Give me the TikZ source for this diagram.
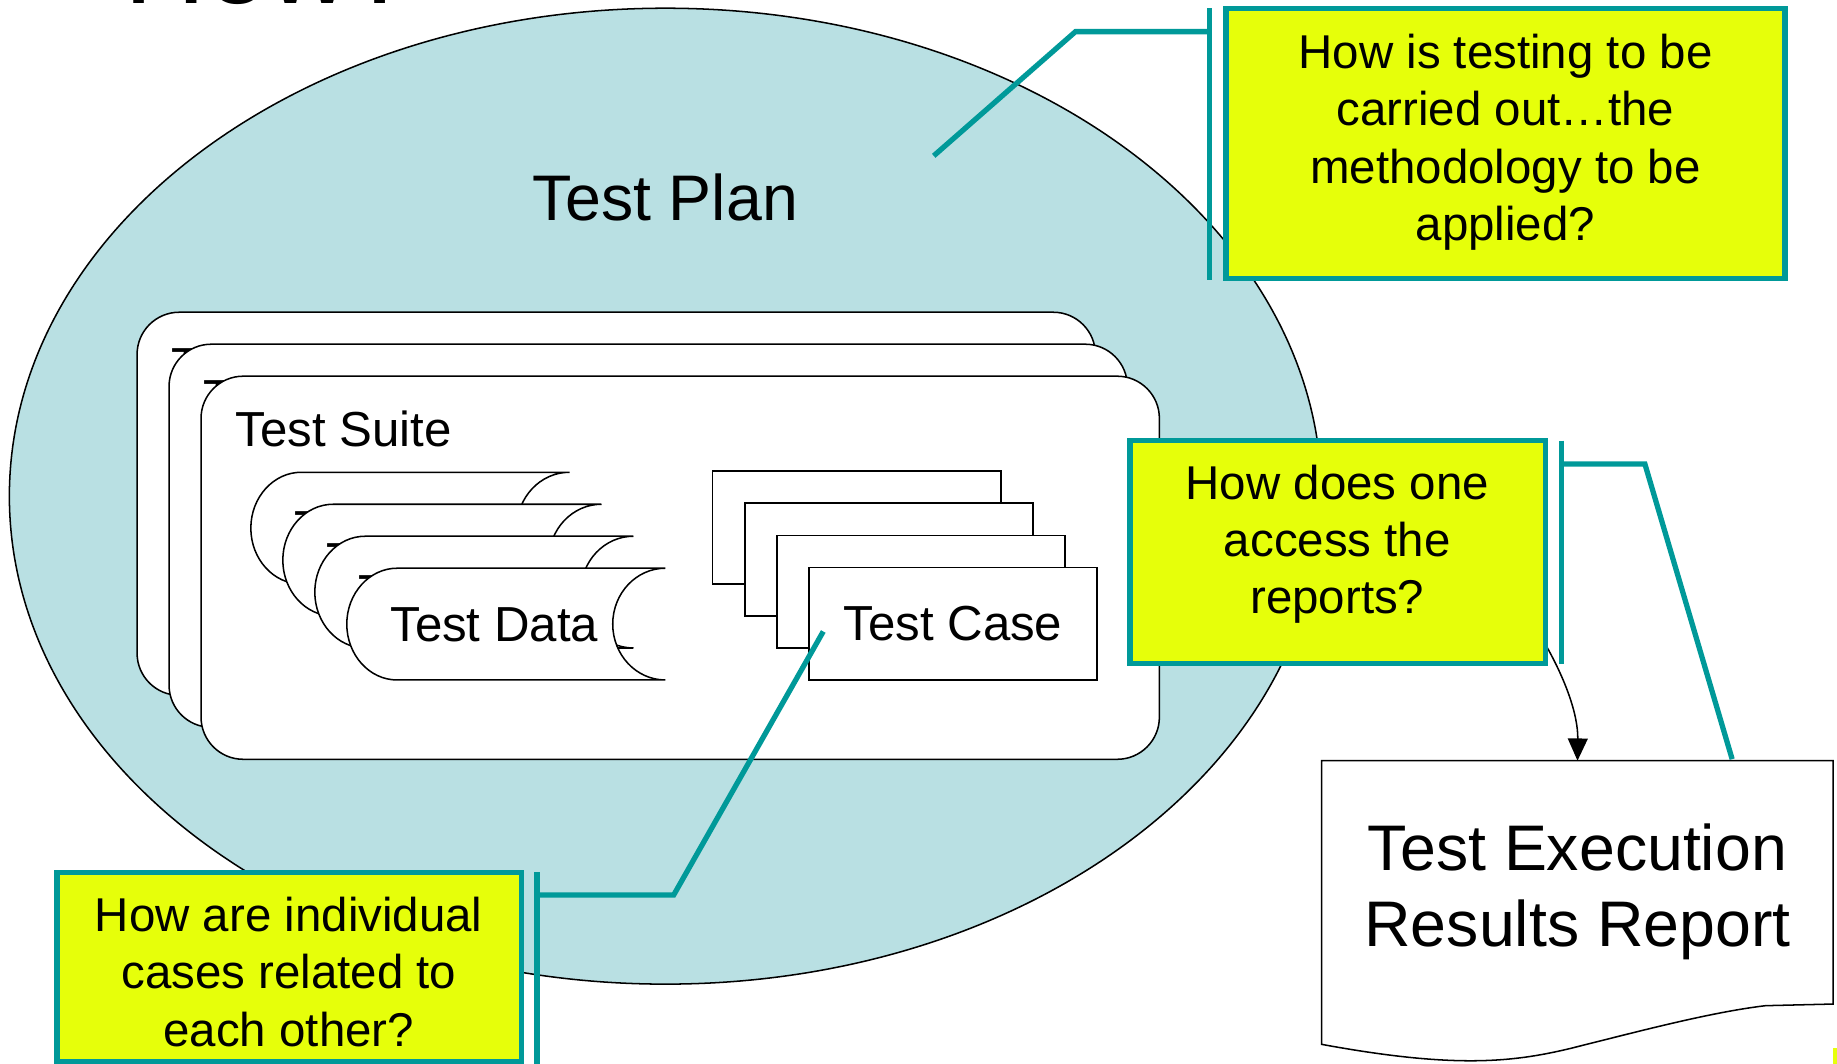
\documentclass[tikz,border=0pt]{standalone}
\usepackage{fontspec}
\setmainfont{Liberation Sans}
\usetikzlibrary{shapes.geometric, arrows.meta}
\definecolor{planfill}{RGB}{185,224,227}
\definecolor{tealc}{RGB}{0,153,153}
\definecolor{qyellow}{RGB}{230,255,10}
\tikzset{
  outline/.style={draw=black, line width=1.3pt},
  suitebox/.style={outline, fill=white, rounded corners=36pt, minimum width=818pt, minimum height=327pt, inner sep=0pt, outer sep=0pt},
  casebox/.style={draw=black, line width=1.5pt, fill=white, minimum width=246pt, minimum height=96pt, inner sep=0pt, outer sep=0pt, font=\fontsize{42}{50}\selectfont},
  callout/.style={draw=tealc, line width=4.5pt, fill=qyellow, inner sep=0pt, outer sep=0pt},
  tealline/.style={draw=tealc, line width=4.5pt},
  qtext/.style={align=center, inner sep=0pt, font=\fontsize{40.5}{48.8}\selectfont},
  midtext/.style={inner sep=0pt, font=\fontsize{42}{50}\selectfont},
  bigtext/.style={inner sep=0pt, align=center, font=\fontsize{55}{64.9}\selectfont},
}
\begin{document}
\begin{tikzpicture}[x=1pt, y=-1pt]
\useasboundingbox (0,0) rectangle (1568,908);
\clip (0,0) rectangle (1568,908);

% title (cut off at the top)
\node[inner sep=0pt, anchor=base west, font=\fontsize{96.5}{100}\selectfont] (title) at (106,3.4) {How?};

% test plan ellipse
\node[ellipse, draw=black, line width=1.3pt, fill=planfill, minimum width=1120pt, minimum height=833pt, inner sep=0pt, outer sep=0pt] (plan) at (568,423.5) {};
\node[bigtext, anchor=base] (plantitle) at (568,188.6) {Test Plan};

% test suites
\foreach \k in {2,1,0}{
  \node[suitebox] (suite\k) at (580.6-27.3*\k, 484.6-27.3*\k) {};
  \node[midtext, anchor=base west] (suitelabel\k) at (201-27.3*\k, 381.3-27.3*\k) {Test Suite};
}

% test data (stored data shapes)
\foreach \k in {3,2,1,0}{
  \begin{scope}[shift={(-27.3*\k,-27.3*\k)}]
    \draw[outline, fill=white] (339,485) -- (568,485)
      .. controls (543.1,485) and (523,506.4) .. (523,532.7)
      .. controls (523,559) and (543.1,580.4) .. (568,580.4)
      -- (339,580.4)
      .. controls (315.3,580.4) and (296,559) .. (296,532.7)
      .. controls (296,506.4) and (315.3,485) .. (339,485) -- cycle;
    \node[midtext, anchor=base west] (data\k) at (333,547.7) {Test Data};
  \end{scope}
}

% test cases
\foreach \k in {3,2,1}{
  \node[casebox] (case\k) at (813.45-27.4*\k, 532.45-27.4*\k) {};
}
\node[casebox] (case0) at (813.45,532.45) {Test Case};

% report document
\draw[outline, fill=white] (1128,649.3) -- (1564.7,649.3) -- (1564.7,857) -- (1507,858.4)
  .. controls (1460,864) and (1400,880) .. (1340,895)
  .. controls (1290,907) and (1240,912) .. (1128,891.4) -- cycle;
\node[bigtext, anchor=north] (report) at (1346.5,703.2) {Test Execution\\Results Report};
\coordinate (reporttop) at (1346.5,649.3);
\coordinate (reportlink) at (1478.5,648);

% connector anchor points
\coordinate (b1top) at (1032.5,7);
\coordinate (b1bot) at (1032.5,239);
\coordinate (b1mid) at (1032.5,27);
\coordinate (b1bend) at (918,27);
\coordinate (planpoint) at (797,133);

\coordinate (b2top) at (1333,376);
\coordinate (b2bot) at (1333,566.7);
\coordinate (b2mid) at (1333,396);
\coordinate (b2bend) at (1404,396);

\coordinate (b3top) at (458.4,744.6);
\coordinate (b3bot) at (458.4,915);
\coordinate (b3mid) at (458.4,764);
\coordinate (b3bend) at (575,764);
\coordinate (casepoint) at (702.7,539);

\coordinate (arrowstart) at (1315,543);

% callout connectors
\draw[tealline] (b1mid) -- (b1bend) -- (planpoint);
\draw[tealline] (b2mid) -- (b2bend) -- (reportlink);
\draw[tealline] (b3mid) -- (b3bend) -- (casepoint);

% black arrow to the report
\draw[line width=1.3pt, -{Triangle[length=19pt,width=17pt]}] (arrowstart) .. controls (1336,578) and (1347,610) .. (reporttop);

% callout boxes
\node[callout, minimum width=477pt, minimum height=230pt] (q1box) at (1285,122.5) {};
\node[qtext, anchor=north] (q1) at (1285,29.1) {How is testing to be\\carried out…the\\methodology to be\\applied?};

\node[callout, minimum width=354.9pt, minimum height=190.6pt] (q2box) at (1141.85,471.3) {};
\node[qtext, anchor=north] (q2) at (1141.5,396.8) {How does one\\access the\\reports?};

\node[callout, minimum width=396.6pt, minimum height=161pt] (q3box) at (247,825.5) {};
\node[qtext, anchor=north] (q3) at (246.5,765.8) {How are individual\\cases related to\\each other?};

% bracket bars
\draw[tealline] (b1top) -- (b1bot);
\draw[tealline] (b2top) -- (b2bot);
\draw[tealline] (b3top) -- (b3bot);

% yellow sliver at the corner
\fill[qyellow] (1564.8,894.8) rectangle (1570,910);
\end{tikzpicture}
\end{document}
